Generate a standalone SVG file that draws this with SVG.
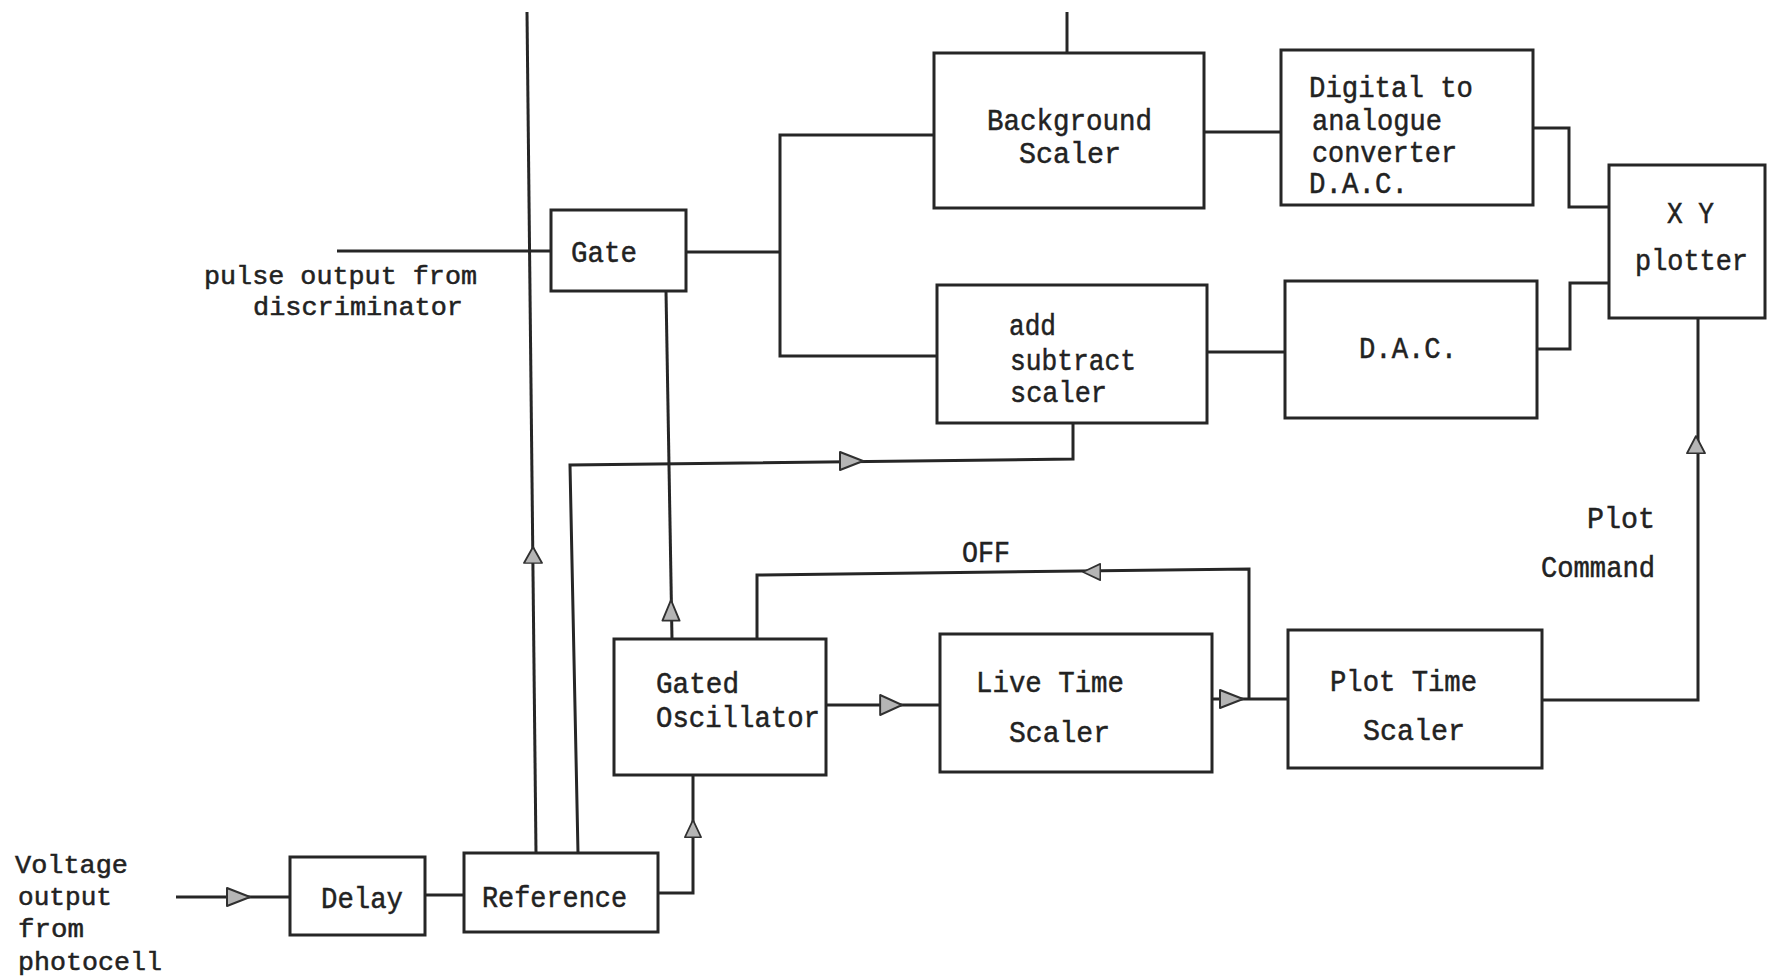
<svg xmlns="http://www.w3.org/2000/svg" xmlns:xlink="http://www.w3.org/1999/xlink" width="1767" height="980" viewBox="0 0 1767 980">
<style>
.bx{fill:none;stroke:#262626;stroke-width:3}
.ln{fill:none;stroke:#262626;stroke-width:3}
.ar{fill:#b5b5b5;stroke:#303030;stroke-width:2;stroke-linejoin:round}
text{font-family:"Liberation Mono","DejaVu Sans Mono",monospace;font-size:30px;fill:#222;stroke:#222;stroke-width:0.5}
.sm{font-size:26px}
</style>
<defs>
<path id="ah" d="M0,0 L-23,-9 L-23,9 Z"/>
</defs>
<rect width="1767" height="980" fill="#ffffff"/>
<g id="connectors">
<path class="ln" d="M337,251 H551"/>
<path class="ln" d="M686,252 H780"/>
<path class="ln" d="M935,135 H780 V356 H937"/>
<path class="ln" d="M1067,12 V53"/>
<path class="ln" d="M1204,132 H1281"/>
<path class="ln" d="M1533,128 H1569 V207 H1609"/>
<path class="ln" d="M1207,352 H1285"/>
<path class="ln" d="M1537,349 H1570 V283 H1609"/>
<path class="ln" d="M1542,700 H1698 V318"/>
<path class="ln" d="M527,12 L536,853"/>
<path class="ln" d="M578,853 L570,465 L1073,459 V423"/>
<path class="ln" d="M672,639 L666,291"/>
<path class="ln" d="M658,893 H693 V775"/>
<path class="ln" d="M176,897 H290"/>
<path class="ln" d="M425,895 H464"/>
<path class="ln" d="M826,705 H940"/>
<path class="ln" d="M1212,699 H1288"/>
<path class="ln" d="M1249,699 V569 L757,575 V639"/>
<use href="#ah" class="ar" transform="translate(250,897)"/>
<use href="#ah" class="ar" transform="translate(863,461)"/>
<use href="#ah" class="ar" transform="translate(902,705) scale(0.95,1.1)"/>
<use href="#ah" class="ar" transform="translate(1243,699)"/>
<use href="#ah" class="ar" transform="translate(1083,572) rotate(180) scale(0.75,0.9)"/>
<use href="#ah" class="ar" transform="translate(533,547) rotate(-90) scale(0.7,1)"/>
<use href="#ah" class="ar" transform="translate(671,600) rotate(-90) scale(0.9,0.95)"/>
<use href="#ah" class="ar" transform="translate(693,820) rotate(-90) scale(0.75,0.9)"/>
<use href="#ah" class="ar" transform="translate(1696,436) rotate(-90) scale(0.75,1)"/>
</g>
<g id="gate"><rect class="bx" x="551" y="210" width="135" height="81"/><text x="571" y="262" textLength="66" lengthAdjust="spacingAndGlyphs">Gate</text></g>
<g id="background-scaler"><rect class="bx" x="934" y="53" width="270" height="155"/><text x="987" y="130" textLength="165" lengthAdjust="spacingAndGlyphs">Background</text><text x="1019" y="163" textLength="102" lengthAdjust="spacingAndGlyphs">Scaler</text></g>
<g id="dac1"><rect class="bx" x="1281" y="50" width="252" height="155"/><text x="1309" y="97" textLength="164" lengthAdjust="spacingAndGlyphs">Digital to</text><text x="1312" y="130" textLength="130" lengthAdjust="spacingAndGlyphs">analogue</text><text x="1312" y="162" textLength="145" lengthAdjust="spacingAndGlyphs">converter</text><text x="1309" y="193" textLength="99" lengthAdjust="spacingAndGlyphs">D.A.C.</text></g>
<g id="xy-plotter"><rect class="bx" x="1609" y="165" width="156" height="153"/><text x="1667" y="223" textLength="47" lengthAdjust="spacingAndGlyphs">X Y</text><text x="1635" y="270" textLength="113" lengthAdjust="spacingAndGlyphs">plotter</text></g>
<g id="add-subtract-scaler"><rect class="bx" x="937" y="285" width="270" height="138"/><text x="1009" y="335" textLength="47" lengthAdjust="spacingAndGlyphs">add</text><text x="1010" y="370" textLength="126" lengthAdjust="spacingAndGlyphs">subtract</text><text x="1010" y="402" textLength="97" lengthAdjust="spacingAndGlyphs">scaler</text></g>
<g id="dac2"><rect class="bx" x="1285" y="281" width="252" height="137"/><text x="1359" y="358" textLength="98" lengthAdjust="spacingAndGlyphs">D.A.C.</text></g>
<g id="gated-oscillator"><rect class="bx" x="614" y="639" width="212" height="136"/><text x="656" y="693" textLength="83" lengthAdjust="spacingAndGlyphs">Gated</text><text x="656" y="727" textLength="164" lengthAdjust="spacingAndGlyphs">Oscillator</text></g>
<g id="live-time-scaler"><rect class="bx" x="940" y="634" width="272" height="138"/><text x="976" y="692" textLength="148" lengthAdjust="spacingAndGlyphs">Live Time</text><text x="1009" y="742" textLength="101" lengthAdjust="spacingAndGlyphs">Scaler</text></g>
<g id="plot-time-scaler"><rect class="bx" x="1288" y="630" width="254" height="138"/><text x="1330" y="691" textLength="147" lengthAdjust="spacingAndGlyphs">Plot Time</text><text x="1363" y="740" textLength="102" lengthAdjust="spacingAndGlyphs">Scaler</text></g>
<g id="delay"><rect class="bx" x="290" y="857" width="135" height="78"/><text x="321" y="908" textLength="82" lengthAdjust="spacingAndGlyphs">Delay</text></g>
<g id="reference"><rect class="bx" x="464" y="853" width="194" height="79"/><text x="482" y="907" textLength="145" lengthAdjust="spacingAndGlyphs">Reference</text></g>
<g id="labels">
<text class="sm" x="204" y="284" textLength="273" lengthAdjust="spacingAndGlyphs">pulse output from</text>
<text class="sm" x="253" y="315" textLength="210" lengthAdjust="spacingAndGlyphs">discriminator</text>
<text x="962" y="562" textLength="48" lengthAdjust="spacingAndGlyphs">OFF</text>
<text x="1587" y="528" textLength="68" lengthAdjust="spacingAndGlyphs">Plot</text>
<text x="1541" y="577" textLength="114" lengthAdjust="spacingAndGlyphs">Command</text>
<text class="sm" x="15" y="873" textLength="113" lengthAdjust="spacingAndGlyphs">Voltage</text>
<text class="sm" x="18" y="905" textLength="94" lengthAdjust="spacingAndGlyphs">output</text>
<text class="sm" x="18" y="937" textLength="66" lengthAdjust="spacingAndGlyphs">from</text>
<text class="sm" x="18" y="970" textLength="144" lengthAdjust="spacingAndGlyphs">photocell</text>
</g>
</svg>
